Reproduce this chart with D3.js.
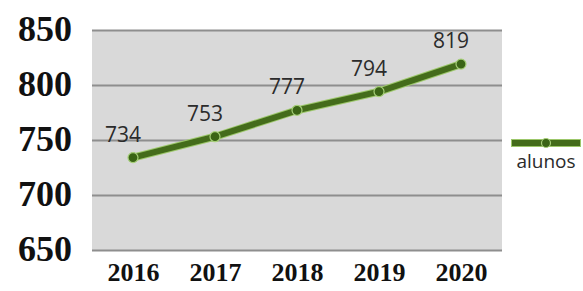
<!DOCTYPE html>
<html>
<head>
<meta charset="utf-8">
<script src="https://cdn.jsdelivr.net/npm/d3@7"></script>
<style>
  body { margin: 0; background: #fff; }
</style>
</head>
<body>
<div id="graph"></div>
<script>
var years = ['2016', '2017', '2018', '2019', '2020']
var alunos = [734, 753, 777, 794, 819]
var yTicks = [650, 700, 750, 800, 850]
var seriesName = 'alunos'

var width = 583, height = 291
var plot = {left: 92, right: 502, top: 30, bottom: 250}

var svg = d3.select('#graph').append('svg')
  .attr('width', width).attr('height', height)

var x = d3.scalePoint().domain(years).range([plot.left, plot.right]).padding(0.5)
var y = d3.scaleLinear().domain([650, 850]).range([plot.bottom, plot.top])

// gray plot background
svg.append('rect')
  .attr('x', plot.left).attr('y', plot.top)
  .attr('width', plot.right - plot.left).attr('height', plot.bottom - plot.top)
  .attr('fill', '#d9d9d9')

// gridlines + y labels
var yAxis = svg.append('g')
  .attr('transform', `translate(${plot.left},0)`)
  .call(d3.axisLeft(y).tickValues(yTicks).tickSize(-(plot.right - plot.left)).tickPadding(20))
yAxis.select('.domain').remove()
yAxis.selectAll('.tick line').attr('stroke', '#8e8e8e').attr('stroke-width', 2)
yAxis.selectAll('.tick text')
  .attr('font-family', '"Liberation Serif", "Times New Roman", serif')
  .attr('font-weight', 'bold').attr('font-size', 36).attr('fill', '#111')
  .attr('dy', '0.3em')

// x labels
var xAxis = svg.append('g')
  .attr('transform', `translate(0,${plot.bottom})`)
  .call(d3.axisBottom(x).tickSize(0).tickPadding(8))
xAxis.select('.domain').remove()
xAxis.selectAll('.tick text')
  .attr('font-family', '"Liberation Serif", "Times New Roman", serif')
  .attr('font-weight', 'bold').attr('font-size', 26).attr('fill', '#111')
  .attr('dy', '0.9em')

var pts = years.map((d, i) => ({year: d, v: alunos[i]}))
var line = d3.line().x(d => x(d.year)).y(d => y(d.v))

// halo + line
svg.append('path').datum(pts).attr('d', line)
  .attr('fill', 'none').attr('stroke', '#9cc76a').attr('stroke-width', 8).attr('stroke-linecap', 'round')
svg.append('path').datum(pts).attr('d', line)
  .attr('fill', 'none').attr('stroke', '#446c1b').attr('stroke-width', 6).attr('stroke-linecap', 'round')

svg.selectAll('circle.pt').data(pts).join('circle')
  .attr('class', 'pt')
  .attr('cx', d => x(d.year)).attr('cy', d => y(d.v)).attr('r', 5)
  .attr('fill', '#3a6415').attr('stroke', '#a6cf78').attr('stroke-width', 1.2)

// value labels
svg.selectAll('text.val').data(pts).join('text')
  .attr('class', 'val')
  .attr('x', d => x(d.year) - 10).attr('y', d => y(d.v) - 16)
  .attr('text-anchor', 'middle')
  .attr('font-family', '"Open Sans", "DejaVu Sans", sans-serif')
  .attr('font-size', 21).attr('fill', '#2b2b2b')
  .text(d => d.v)

// legend
var lg = svg.append('g').attr('transform', 'translate(546,143)')
lg.append('line').attr('x1', -35).attr('x2', 35)
  .attr('stroke', '#9cc76a').attr('stroke-width', 8)
lg.append('line').attr('x1', -34).attr('x2', 34)
  .attr('stroke', '#446c1b').attr('stroke-width', 6)
lg.append('circle').attr('r', 4.5)
  .attr('fill', '#3a6415').attr('stroke', '#a6cf78').attr('stroke-width', 1.2)
lg.append('text').attr('y', 25).attr('text-anchor', 'middle')
  .attr('font-family', '"Open Sans", "DejaVu Sans", sans-serif')
  .attr('font-size', 19).attr('fill', '#2b2b2b')
  .text(seriesName)
</script>
</body>
</html>
